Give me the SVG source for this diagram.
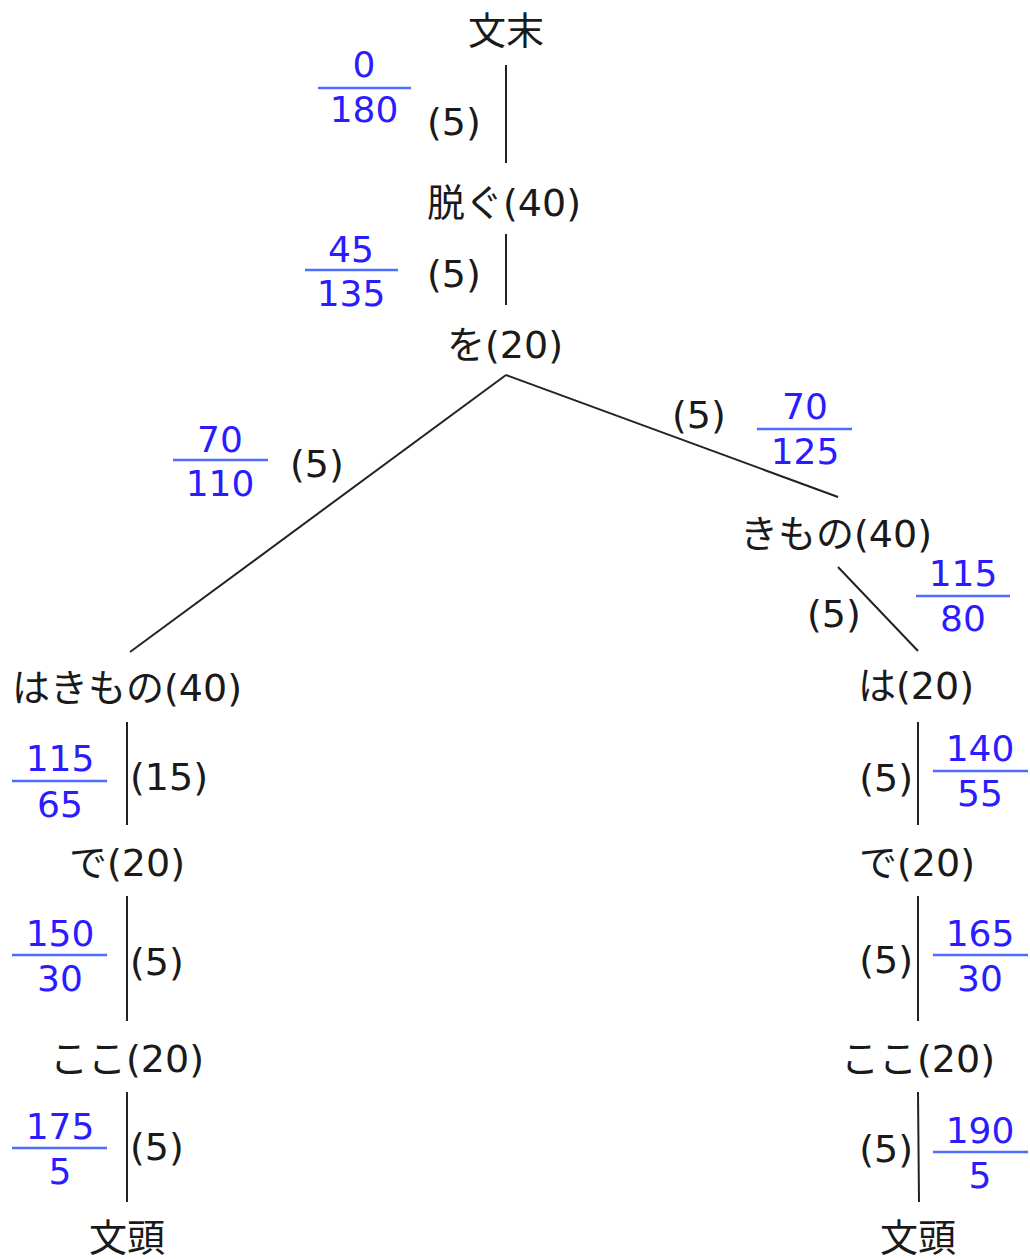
<svg xmlns="http://www.w3.org/2000/svg" width="1030" height="1259" viewBox="0 0 1030 1259">
<style>
.n{font-family:"DejaVu Sans","Noto Sans CJK JP",sans-serif;font-size:38px;fill:#1a1a1a;text-anchor:middle}
.w{font-family:"DejaVu Sans","Noto Sans CJK JP",sans-serif;font-size:38px;fill:#1a1a1a}
.b{font-family:"DejaVu Sans",sans-serif;font-size:36px;fill:#2a1cff;text-anchor:middle}
.fl{stroke:#4f6dff;stroke-width:2.5}
.e{stroke:#222;stroke-width:2;fill:none}
</style>
<rect width="1030" height="1259" fill="#fff"/>
<g id="connectors">
<line class="e" x1="506" y1="65" x2="506" y2="163"/>
<line class="e" x1="506" y1="234" x2="506" y2="305"/>
<line class="e" x1="506" y1="375" x2="130" y2="652"/>
<line class="e" x1="506" y1="375" x2="838" y2="497"/>
<line class="e" x1="838" y1="567" x2="918" y2="651"/>
<line class="e" x1="127" y1="722" x2="127" y2="825"/>
<line class="e" x1="127" y1="896" x2="127" y2="1021"/>
<line class="e" x1="127" y1="1092" x2="127" y2="1202"/>
<line class="e" x1="918" y1="722" x2="918" y2="825"/>
<line class="e" x1="918" y1="896" x2="918" y2="1021"/>
<line class="e" x1="918" y1="1092" x2="919" y2="1202"/>
<text class="w" x="427" y="135">(5)</text>
<text class="w" x="427" y="287">(5)</text>
<text class="w" x="290" y="477">(5)</text>
<text class="w" x="672" y="428">(5)</text>
<text class="w" x="807" y="627">(5)</text>
<text class="w" x="130" y="790">(15)</text>
<text class="w" x="130" y="975">(5)</text>
<text class="w" x="130" y="1160">(5)</text>
<text class="w" x="913" y="791" text-anchor="end">(5)</text>
<text class="w" x="913" y="973" text-anchor="end">(5)</text>
<text class="w" x="913" y="1162" text-anchor="end">(5)</text>
<g id="f1"><line class="fl" x1="318" y1="88" x2="411" y2="88"/><text class="b" x="364" y="77">0</text><text class="b" x="364" y="122">180</text></g>
<g id="f2"><line class="fl" x1="305" y1="270" x2="398" y2="270"/><text class="b" x="351" y="262">45</text><text class="b" x="351" y="306">135</text></g>
<g id="f3"><line class="fl" x1="173" y1="460" x2="268" y2="460"/><text class="b" x="220" y="452">70</text><text class="b" x="220" y="496">110</text></g>
<g id="f4"><line class="fl" x1="757" y1="429" x2="852" y2="429"/><text class="b" x="805" y="419">70</text><text class="b" x="805" y="464">125</text></g>
<g id="f5"><line class="fl" x1="916" y1="596" x2="1010" y2="596"/><text class="b" x="963" y="586">115</text><text class="b" x="963" y="631">80</text></g>
<g id="f6"><line class="fl" x1="12" y1="781" x2="107" y2="781"/><text class="b" x="60" y="771">115</text><text class="b" x="60" y="817">65</text></g>
<g id="f7"><line class="fl" x1="12" y1="955" x2="107" y2="955"/><text class="b" x="60" y="946">150</text><text class="b" x="60" y="991">30</text></g>
<g id="f8"><line class="fl" x1="12" y1="1148" x2="107" y2="1148"/><text class="b" x="60" y="1139">175</text><text class="b" x="60" y="1184">5</text></g>
<g id="f9"><line class="fl" x1="933" y1="771" x2="1028" y2="771"/><text class="b" x="980" y="761">140</text><text class="b" x="980" y="806">55</text></g>
<g id="f10"><line class="fl" x1="933" y1="955" x2="1028" y2="955"/><text class="b" x="980" y="946">165</text><text class="b" x="980" y="991">30</text></g>
<g id="f11"><line class="fl" x1="933" y1="1152" x2="1028" y2="1152"/><text class="b" x="980" y="1143">190</text><text class="b" x="980" y="1188">5</text></g>
</g>
<g id="n-bunmatsu"><text class="n" x="506" y="44">文末</text></g>
<g id="n-nugu"><text class="n" x="504" y="216">脱ぐ(40)</text></g>
<g id="n-wo"><text class="n" x="505" y="358">を(20)</text></g>
<g id="n-hakimono"><text class="n" x="127" y="701">はきもの(40)</text></g>
<g id="n-kimono"><text class="n" x="836" y="547">きもの(40)</text></g>
<g id="n-ha"><text class="n" x="916" y="699">は(20)</text></g>
<g id="n-de-l"><text class="n" x="127" y="876">で(20)</text></g>
<g id="n-koko-l"><text class="n" x="127" y="1072">ここ(20)</text></g>
<g id="n-bunto-l"><text class="n" x="127" y="1251">文頭</text></g>
<g id="n-de-r"><text class="n" x="917" y="876">で(20)</text></g>
<g id="n-koko-r"><text class="n" x="918" y="1072">ここ(20)</text></g>
<g id="n-bunto-r"><text class="n" x="918" y="1251">文頭</text></g>
</svg>
